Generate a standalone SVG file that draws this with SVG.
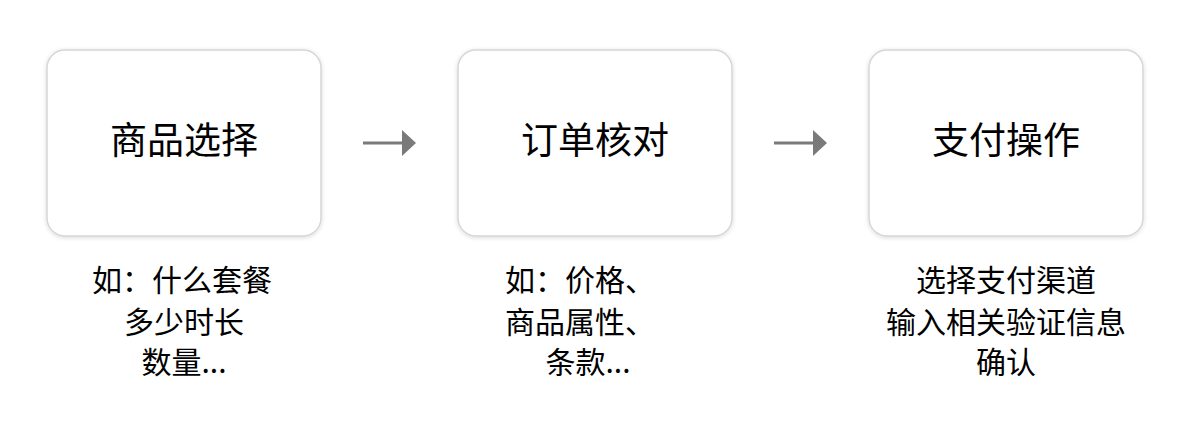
<svg xmlns="http://www.w3.org/2000/svg" width="1200" height="439" viewBox="0 0 1200 439">
<style>
.box{fill:#fff;stroke:#d6d6d6;stroke-width:1.5}
.t{font-family:"Noto Sans CJK SC","Noto Sans",sans-serif;fill:#000;text-anchor:middle}
.title{font-size:37px}
.sub{font-size:30px}
.arr{stroke:#7a7a7a;stroke-width:3;fill:none}
</style>
<defs>
<filter id="sh" x="-10%" y="-10%" width="120%" height="120%">
<feDropShadow dx="0" dy="1" stdDeviation="2" flood-color="#000" flood-opacity="0.15"/>
</filter>
<marker id="ah" markerWidth="14" markerHeight="26" refX="0" refY="13" orient="auto" markerUnits="userSpaceOnUse">
<path d="M0,0 L14,13 L0,26 Z" fill="#7a7a7a"/>
</marker>
</defs>
<rect width="1200" height="439" fill="#fff"/>
<g id="node1">
<rect class="box" x="47" y="50" width="274" height="186" rx="18" filter="url(#sh)"/>
<text class="t title" x="184" y="154">商品选择</text>
<text class="t sub" x="182" y="291">如：什么套餐</text>
<text class="t sub" x="184" y="333">多少时长</text>
<text class="t sub" x="184" y="373">数量...</text>
</g>
<g id="node2">
<rect class="box" x="458" y="50" width="274" height="186" rx="18" filter="url(#sh)"/>
<text class="t title" x="595" y="154">订单核对</text>
<text class="t sub" x="580" y="291">如：价格、</text>
<text class="t sub" x="580" y="333">商品属性、</text>
<text class="t sub" x="588" y="373">条款...</text>
</g>
<g id="node3">
<rect class="box" x="869" y="50" width="274" height="186" rx="18" filter="url(#sh)"/>
<text class="t title" x="1006" y="154">支付操作</text>
<text class="t sub" x="1006" y="291">选择支付渠道</text>
<text class="t sub" x="1006" y="333">输入相关验证信息</text>
<text class="t sub" x="1006" y="373">确认</text>
</g>
<g id="connectors">
<line class="arr" x1="363" y1="143" x2="402" y2="143" marker-end="url(#ah)"/>
<line class="arr" x1="774" y1="143" x2="813" y2="143" marker-end="url(#ah)"/>
</g>
</svg>
